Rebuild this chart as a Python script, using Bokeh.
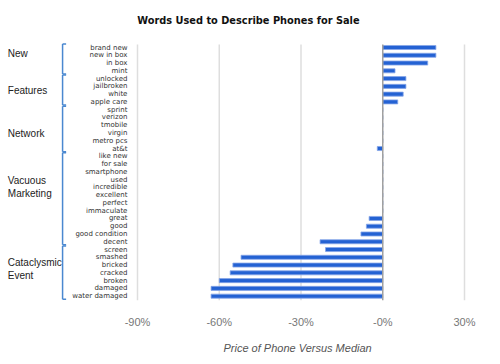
from bokeh.plotting import figure
from bokeh.models import Range1d, FixedTicker, Title, ColumnDataSource
from bokeh.core.properties import value
from bokeh.embed import file_html
from bokeh.resources import INLINE

# ---- data ----
words = ["brand new", "new in box", "in box", "mint",
         "unlocked", "jailbroken", "white", "apple care",
         "sprint", "verizon", "tmobile", "virgin", "metro pcs", "at&t",
         "like new", "for sale", "smartphone", "used", "incredible", "excellent",
         "perfect", "immaculate", "great", "good", "good condition", "decent",
         "screen", "smashed", "bricked", "cracked", "broken", "damaged", "water damaged"]
values = [19.5, 19.5, 16.5, 4.5,
          8.5, 8.5, 7.5, 5.5,
          0, 0, 0, 0, 0, -2,
          0, 0, 0, 0, 0, 0,
          0, 0, -5, -6, -8, -23,
          -21, -52, -55, -56, -60, -63, -63]
groups = ["New", "Features", "Network", "Vacuous\nMarketing", "Cataclysmic\nEvent"]
group_sizes = [4, 4, 6, 12, 7]
ticks = [-90, -60, -30, 0, 30]
tick_labels = ["-90%", "-60%", "-30%", "-0%", "30%"]

title = "Words Used to Describe Phones for Sale"
xlabel = "Price of Phone Versus Median"

# ---- layout ----
rows = list(range(len(words)))
XMIN, XMAX = -140.28, 43.21
YBOT, YTOP = 32.56, -6.05
grid_top = -0.4
label_x = -93.7
bracket_x = -117.5
bracket_tick = 1.3
group_label_x = -137.6
group_label_rows = [0.8, 5.5, 11.1, 18.0, 28.5]

p = figure(width=500, height=364, x_range=Range1d(XMIN, XMAX), y_range=Range1d(YBOT, YTOP),
           output_backend="svg", toolbar_location=None, y_axis_location=None,
           min_border_left=0, min_border_right=0, min_border_top=0, min_border_bottom=64)
p.outline_line_color = None
p.grid.visible = False
p.background_fill_color = "white"
p.border_fill_color = "white"

# gridlines
grid_ticks = [t for t in ticks if t != 0]
p.segment(x0=grid_ticks, x1=grid_ticks, y0=[grid_top] * len(grid_ticks), y1=[YBOT] * len(grid_ticks),
          line_color="#dedede", line_width=1.5)

# bars
src = ColumnDataSource(dict(y=rows, right=values, word=words))
p.hbar(y="y", left=0, right="right", height=0.52, source=src,
       fill_color="#2462d3", line_color="#86a6e8", line_width=0.8)

# zero axis
p.segment(x0=[0], x1=[0], y0=[grid_top], y1=[YBOT], line_color="#a0a0a0", line_width=1.5)

# word labels
p.text(x=label_x, y="y", text="word", source=src, text_align="right", text_baseline="middle",
       text_font=value("DejaVu Sans"), text_font_size="7px", text_color="#333333")

# brackets and group labels
start = 0
bx0, bx1, by0, by1 = [], [], [], []
for n in group_sizes:
    a, b = start - 0.45, start + n - 1 + 0.4
    bx0 += [bracket_x, bracket_x, bracket_x]
    bx1 += [bracket_x, bracket_x + bracket_tick, bracket_x + bracket_tick]
    by0 += [a, a, b]
    by1 += [b, a, b]
    start += n
p.segment(x0=bx0, x1=bx1, y0=by0, y1=by1, line_color="#4a88d0", line_width=1.5)
p.text(x=[group_label_x] * len(groups), y=group_label_rows, text=groups, text_align="left",
       text_baseline="middle", text_font=value("Liberation Sans"), text_font_size="10px",
       text_color="#222222", text_line_height=1.2)

# title
p.text(x=[-49.3], y=[-3.47], text=[title], text_align="center", text_baseline="middle",
       text_font=value("DejaVu Sans"), text_font_style="bold", text_font_size="9.8px",
       text_color="#111111")

# x axis
ax = p.xaxis[0]
ax.ticker = FixedTicker(ticks=ticks)
ax.major_label_overrides = {t: l for t, l in zip(ticks, tick_labels)}
ax.axis_line_color = None
ax.major_tick_line_color = None
ax.minor_tick_line_color = None
ax.major_label_standoff = 9
ax.major_label_text_font = "Liberation Sans"
ax.major_label_text_font_size = "11px"
ax.major_label_text_color = "#777777"

p.add_layout(Title(text=xlabel, align="left", offset=223, standoff=18,
                   text_font="Liberation Sans", text_font_style="italic", text_font_size="11px",
                   text_color="#555555"), "below")

open("out.html", "w").write(file_html(p, INLINE))
